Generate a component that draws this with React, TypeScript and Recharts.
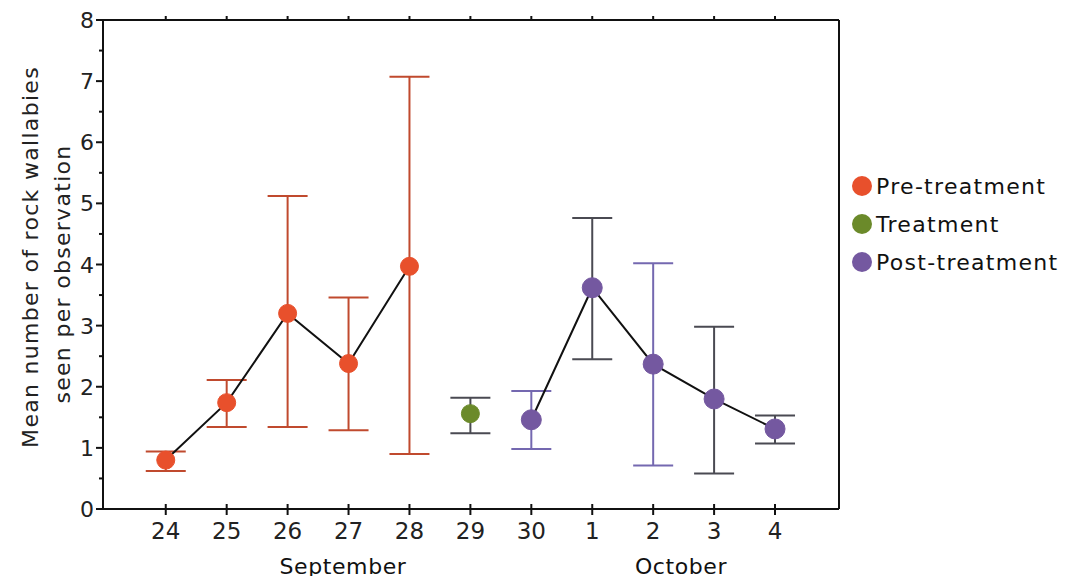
import React from 'react';
import { ComposedChart, Line, XAxis, YAxis, ErrorBar, Legend } from 'recharts';

// ---- data ----
const dayLabels = ['24', '25', '26', '27', '28', '29', '30', '1', '2', '3', '4'];
const phase = ['pre', 'pre', 'pre', 'pre', 'pre', 'treat', 'post', 'post', 'post', 'post', 'post'];
const meanValues = [0.8, 1.74, 3.2, 2.38, 3.97, 1.56, 1.46, 3.62, 2.37, 1.8, 1.31];
const lowValues = [0.62, 1.34, 1.34, 1.29, 0.9, 1.24, 0.98, 2.45, 0.71, 0.58, 1.07];
const highValues = [0.94, 2.11, 5.12, 3.46, 7.07, 1.82, 1.93, 4.76, 4.02, 2.98, 1.53];
const errorColorGroup = ['a', 'a', 'a', 'a', 'a', 'b', 'c', 'b', 'c', 'b', 'b'];
const yTicks = [0, 0.5, 1, 1.5, 2, 2.5, 3, 3.5, 4, 4.5, 5, 5.5, 6, 6.5, 7, 7.5, 8];
const xTicks = [0, 1, 2, 3, 4, 5, 6, 7, 8, 9, 10];

const COLORS = {
  pre: '#e8502c',
  treat: '#6b8a2a',
  post: '#7458a0',
  errA: '#c04a2e',
  errB: '#4a4a52',
  errC: '#7468b0',
};

const legendItems = [
  { label: 'Pre-treatment', color: COLORS.pre },
  { label: 'Treatment', color: COLORS.treat },
  { label: 'Post-treatment', color: COLORS.post },
];

const data = dayLabels.map((d, i) => {
  const m = meanValues[i];
  const err: [number, number] = [m - lowValues[i], highValues[i] - m];
  const row: any = { x: i, day: d };
  if (phase[i] === 'pre') row.pre = m;
  if (phase[i] === 'treat') row.treat = m;
  if (phase[i] === 'post') row.post = m;
  const g = errorColorGroup[i];
  row['ev_' + g] = m;
  row['err_' + g] = err;
  return row;
});

const FONT = '"DejaVu Sans", sans-serif';

const BottomTick = (props: any) => {
  const { x, y, payload } = props;
  return (
    <g>
      <line x1={x} x2={x} y1={y - 5} y2={y + 6} stroke="#111" strokeWidth={2} />
      <text x={x} y={y + 30} textAnchor="middle" fontSize={23} fontFamily={FONT} fill="#222">
        {dayLabels[payload.value]}
      </text>
    </g>
  );
};

const TopTick = (props: any) => {
  const { x, y } = props;
  return <line x1={x} x2={x} y1={y} y2={y - 4} stroke="#111" strokeWidth={2} />;
};

const LeftTick = (props: any) => {
  const { x, y, payload } = props;
  const major = Number.isInteger(payload.value);
  return (
    <g>
      <line x1={x} x2={x - (major ? 7 : 4)} y1={y} y2={y} stroke="#111" strokeWidth={2} />
      {major && (
        <text x={x - 9} y={y + 8} textAnchor="end" fontSize={22} fontFamily={FONT} fill="#222">
          {payload.value}
        </text>
      )}
    </g>
  );
};

const RightTick = (props: any) => {
  const { x, y } = props;
  return <line x1={x} x2={x + 5} y1={y} y2={y} stroke="#111" strokeWidth={2} />;
};

const LegendContent = () => (
  <div style={{ fontFamily: FONT, whiteSpace: 'nowrap' }}>
    {legendItems.map((it) => (
      <div key={it.label} style={{ display: 'flex', alignItems: 'center', height: 38 }}>
        <svg width={22} height={22} style={{ marginRight: 3, flexShrink: 0 }}>
          <circle cx={11} cy={11} r={10} fill={it.color} />
        </svg>
        <span style={{ fontSize: 22, color: '#111', letterSpacing: 1.3, whiteSpace: 'nowrap' }}>
          {it.label}
        </span>
      </div>
    ))}
  </div>
);

export default function App() {
  const W = 1053;
  const H = 568;
  return (
    <div style={{ position: 'relative', width: W, height: H, background: '#fff' }}>
      <ComposedChart
        width={W}
        height={H}
        data={data}
        margin={{ top: 0, right: 2, bottom: 27, left: 0 }}
      >
        <XAxis
          xAxisId="bottom"
          dataKey="x"
          type="number"
          domain={[-1.03, 11.05]}
          ticks={xTicks}
          allowDataOverflow
          height={40}
          tickSize={0}
          tickMargin={0}
          tick={<BottomTick />}
          axisLine={{ stroke: '#111', strokeWidth: 2 }}
          tickLine={false}
          interval={0}
        />
        <XAxis
          xAxisId="top"
          dataKey="x"
          type="number"
          orientation="top"
          domain={[-1.03, 11.05]}
          ticks={xTicks}
          allowDataOverflow
          height={12}
          tickSize={0}
          tickMargin={0}
          tick={<TopTick />}
          axisLine={{ stroke: '#111', strokeWidth: 2 }}
          tickLine={false}
          interval={0}
        />
        <YAxis
          yAxisId="left"
          type="number"
          domain={[0, 8]}
          ticks={yTicks}
          width={95}
          tickSize={0}
          tickMargin={0}
          tick={<LeftTick />}
          axisLine={{ stroke: '#111', strokeWidth: 2 }}
          tickLine={false}
          interval={0}
        />
        <YAxis
          yAxisId="right"
          orientation="right"
          type="number"
          domain={[0, 8]}
          ticks={yTicks}
          width={10}
          tickSize={0}
          tickMargin={0}
          tick={<RightTick />}
          axisLine={{ stroke: '#111', strokeWidth: 2 }}
          tickLine={false}
          interval={0}
        />
        <Legend
          layout="vertical"
          verticalAlign="top"
          align="right"
          content={<LegendContent />}
          wrapperStyle={{ position: 'absolute', left: 843, top: 159, width: 210 }}
        />
        <Line xAxisId="bottom" yAxisId="left" dataKey="ev_a" stroke="none" dot={false} legendType="none" isAnimationActive={false}>
          <ErrorBar dataKey="err_a" width={20} stroke={COLORS.errA} strokeWidth={2} direction="y" />
        </Line>
        <Line xAxisId="bottom" yAxisId="left" dataKey="ev_b" stroke="none" dot={false} legendType="none" isAnimationActive={false}>
          <ErrorBar dataKey="err_b" width={20} stroke={COLORS.errB} strokeWidth={2} direction="y" />
        </Line>
        <Line xAxisId="bottom" yAxisId="left" dataKey="ev_c" stroke="none" dot={false} legendType="none" isAnimationActive={false}>
          <ErrorBar dataKey="err_c" width={20} stroke={COLORS.errC} strokeWidth={2} direction="y" />
        </Line>
        <Line
          xAxisId="bottom"
          yAxisId="left"
          dataKey="pre"
          name="Pre-treatment"
          stroke="#111"
          strokeWidth={2}
          dot={{ r: 9, fill: COLORS.pre, stroke: COLORS.pre, strokeWidth: 1 }}
          isAnimationActive={false}
        />
        <Line
          xAxisId="bottom"
          yAxisId="left"
          dataKey="treat"
          name="Treatment"
          stroke="none"
          dot={{ r: 9, fill: COLORS.treat, stroke: COLORS.treat, strokeWidth: 1 }}
          isAnimationActive={false}
        />
        <Line
          xAxisId="bottom"
          yAxisId="left"
          dataKey="post"
          name="Post-treatment"
          stroke="#111"
          strokeWidth={2}
          dot={{ r: 10, fill: COLORS.post, stroke: COLORS.post, strokeWidth: 1 }}
          isAnimationActive={false}
        />
      </ComposedChart>
      <svg
        width={W}
        height={H}
        style={{ position: 'absolute', left: 0, top: 0, pointerEvents: 'none', overflow: 'visible' }}
      >
        <text
          transform="translate(30, 249) rotate(-90)"
          textAnchor="middle"
          fontSize={22}
          fontFamily={FONT}
          fill="#222"
          letterSpacing={1.3}
        >
          Mean number of rock wallabies
        </text>
        <text
          transform="translate(62, 266) rotate(-90)"
          textAnchor="middle"
          fontSize={22}
          fontFamily={FONT}
          fill="#222"
          letterSpacing={1.3}
        >
          seen per observation
        </text>
        <text x={335} y={566} textAnchor="middle" fontSize={22} fontFamily={FONT} fill="#111" letterSpacing={0.6}>
          September
        </text>
        <text x={673} y={566} textAnchor="middle" fontSize={22} fontFamily={FONT} fill="#111" letterSpacing={0.6}>
          October
        </text>
      </svg>
    </div>
  );
}
